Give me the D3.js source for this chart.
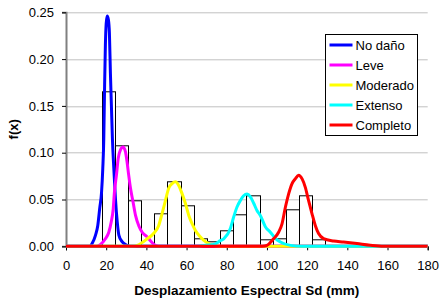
<!DOCTYPE html>
<html>
<head>
<meta charset="utf-8">
<script src="https://cdn.jsdelivr.net/npm/d3@7"></script>
<style>
    body { margin: 0; background: #fff; }
    text { font-family: "Liberation Sans", Arial, sans-serif; }
</style>
</head>
<body>
<div id="box-div"></div>
<script>
// valores
const xTicks = [0, 20, 40, 60, 80, 100, 120, 140, 160, 180]
const yTicks = [0, 0.05, 0.10, 0.15, 0.20, 0.25]

// histograma
const binEdges = [17.8, 24.3, 30.9, 37.4, 44.0, 50.5, 57.0, 63.6, 70.1, 76.7,
    83.2, 89.7, 96.3, 102.8, 109.4, 115.9, 122.4, 129.0, 135.5]
const binValues = [0.166, 0.108, 0.0487, 0, 0.0356, 0.0698, 0.0441, 0.0085, 0.0049,
    0.0174, 0.0345, 0.0548, 0.0075, 0.0085, 0.0395, 0.0548, 0.0078, 0.0014]

// curvas de fragilidad (densidad)
const seriesNames = ['No daño', 'Leve', 'Moderado', 'Extenso', 'Completo']

const noDanoX = [0, 12, 13, 14.7, 15.8, 16.8, 17.7, 18.3, 18.8, 19.2, 19.6, 20.0, 20.5, 21.1, 21.6,
    22.1, 22.6, 23.1, 23.8, 24.6, 25.5, 26.3, 27.9, 29.6, 32, 180]
const noDanoY = [0, 0, 0.003, 0.012, 0.022, 0.041, 0.058, 0.083, 0.115, 0.17, 0.215, 0.238, 0.246, 0.242, 0.228,
    0.185, 0.15, 0.115, 0.083, 0.051, 0.026, 0.012, 0.005, 0.002, 0, 0]

const leveX = [0, 15, 17.2, 19.6, 21.3, 22.5, 23.5, 24.1, 25.1, 26.0, 27.1, 28.4, 29.6, 30.4, 31.2,
    32.1, 33.4, 34.6, 36.2, 37.9, 40.4, 42.0, 44.5, 47, 180]
const leveY = [0, 0, 0.002, 0.008, 0.015, 0.026, 0.040, 0.058, 0.076, 0.094, 0.103, 0.106, 0.101, 0.090, 0.076,
    0.062, 0.047, 0.033, 0.022, 0.015, 0.010, 0.006, 0.001, 0, 0]

const moderadoX = [0, 33, 35.4, 40.4, 43.7, 46.1, 47.8, 49.5, 51.1, 52.8, 54.5, 56.1, 57.8, 59.4, 61.1,
    62.8, 64.4, 66.9, 69.4, 71.9, 76.8, 180]
const moderadoY = [0, 0, 0.001, 0.008, 0.014, 0.022, 0.035, 0.049, 0.062, 0.067, 0.069, 0.065, 0.056, 0.046, 0.033,
    0.024, 0.017, 0.010, 0.005, 0.002, 0, 0]

const extensoX = [0, 65.9, 68.5, 73.5, 76.8, 78.5, 81.8, 83.4, 85.1, 86.8, 88.4, 90.1, 91.7, 93.4, 95.1,
    96.7, 99.2, 101.7, 104.2, 106.7, 111.7, 118, 180]
const extensoY = [0, 0, 0.001, 0.002, 0.006, 0.008, 0.019, 0.031, 0.042, 0.049, 0.054, 0.056, 0.053, 0.046, 0.038,
    0.033, 0.021, 0.015, 0.0085, 0.0046, 0.001, 0, 0]

const completoX = [0, 97.7, 100.0, 103.3, 105.8, 107.5, 109.2, 110.8, 112.5, 114.1, 115.8, 117.5, 119.1, 120.7,
    122.4, 124.1, 125.7, 128.2, 133.2, 138.1, 144.8, 151.4, 158, 180]
const completoY = [0, 0, 0.001, 0.008, 0.015, 0.024, 0.042, 0.056, 0.067, 0.072, 0.076, 0.072, 0.063, 0.049,
    0.035, 0.022, 0.0136, 0.0082, 0.0057, 0.0046, 0.0029, 0.0011, 0, 0]

const seriesX = [noDanoX, leveX, moderadoX, extensoX, completoX]
const seriesY = [noDanoY, leveY, moderadoY, extensoY, completoY]
const seriesColors = ['#0000ff', '#ff00ff', '#ffff00', '#00ffff', '#ff0000']

let dms = {
    width: 445,
    height: 306,
    margin: {
        top: 12.3,
        right: 17.3,
        bottom: 59.7,
        left: 66
    }
}
dms.chartWidth = dms.width - dms.margin.left - dms.margin.right
dms.chartHeight = dms.height - dms.margin.top - dms.margin.bottom

const box = d3.select('#box-div').append('svg')
    .attr('width', dms.width)
    .attr('height', dms.height)

const content = box.append('g')
    .attr('transform', `translate(${dms.margin.left}, ${dms.margin.top})`)

const xScale = d3.scaleLinear()
    .domain([0, 180])
    .range([0, dms.chartWidth])

const yScale = d3.scaleLinear()
    .domain([0, 0.25])
    .range([dms.chartHeight, 0])

// lineas de division
content.append('g')
    .selectAll('line')
    .data(yTicks.filter(d => d > 0))
    .join('line')
    .attr('x1', 0)
    .attr('x2', dms.chartWidth)
    .attr('y1', d => Math.round(yScale(d)) + 0.5)
    .attr('y2', d => Math.round(yScale(d)) + 0.5)
    .attr('stroke', '#c0c0c0')
    .attr('stroke-width', 1)

// barras del histograma
const bins = binValues.map((v, i) => ({ x0: binEdges[i], x1: binEdges[i + 1], v: v }))
content.append('g')
    .selectAll('rect')
    .data(bins.filter(d => d.v > 0))
    .join('rect')
    .attr('x', d => Math.round(xScale(d.x0)) + 0.5)
    .attr('y', d => Math.round(yScale(d.v)) + 0.5)
    .attr('width', d => Math.round(xScale(d.x1)) - Math.round(xScale(d.x0)))
    .attr('height', d => Math.round(dms.chartHeight) - Math.round(yScale(d.v)))
    .attr('fill', '#fff')
    .attr('stroke', '#000')
    .attr('stroke-width', 1)

// ejes
const yAxis = content.append('g')
    .call(d3.axisLeft(yScale).tickValues(yTicks).tickFormat(d3.format('.2f')).tickSize(4).tickPadding(8))
yAxis.select('.domain').attr('stroke', '#808080').attr('stroke-width', 2)
yAxis.selectAll('text').attr('font-size', 13).attr('fill', '#000').style('font-family', '"Liberation Sans", Arial, sans-serif')

const xAxis = content.append('g')
    .attr('transform', `translate(0, ${dms.chartHeight})`)
    .call(d3.axisBottom(xScale).tickValues(xTicks).tickSize(4).tickPadding(10))
xAxis.select('.domain').attr('stroke', '#000')
xAxis.selectAll('text').attr('font-size', 13).attr('fill', '#000').style('font-family', '"Liberation Sans", Arial, sans-serif')

// curvas
const lineGen = d3.line()
    .x(d => xScale(d[0]))
    .y(d => yScale(d[1]))
    .curve(d3.curveMonotoneX)

content.append('g')
    .selectAll('path')
    .data(seriesX.map((xs, i) => xs.map((x, j) => [x, seriesY[i][j]])))
    .join('path')
    .attr('d', lineGen)
    .attr('fill', 'none')
    .attr('stroke', (d, i) => seriesColors[i])
    .attr('stroke-width', 3)
    .attr('stroke-linejoin', 'round')

// titulos
box.append('text')
    .attr('x', dms.margin.left + dms.chartWidth / 2)
    .attr('y', 295)
    .attr('text-anchor', 'middle')
    .attr('font-size', 13.5)
    .attr('font-weight', 'bold')
    .text('Desplazamiento Espectral Sd (mm)')

box.append('text')
    .attr('transform', `translate(18, ${dms.margin.top + dms.chartHeight / 2}) rotate(-90)`)
    .attr('text-anchor', 'middle')
    .attr('font-size', 13)
    .attr('font-weight', 'bold')
    .text('f(x)')

// leyenda
const legend = box.append('g')
    .attr('transform', 'translate(325.5, 34.5)')
legend.append('rect')
    .attr('width', 92)
    .attr('height', 101)
    .attr('fill', '#fff')
    .attr('stroke', '#000')

const legendItem = legend.selectAll('g.item')
    .data(seriesNames)
    .join('g')
    .attr('class', 'item')
    .attr('transform', (d, i) => `translate(0, ${10.5 + i * 20})`)
legendItem.append('line')
    .attr('x1', 4)
    .attr('x2', 27)
    .attr('stroke', (d, i) => seriesColors[i])
    .attr('stroke-width', 3)
legendItem.append('text')
    .attr('x', 30)
    .attr('y', 4.5)
    .attr('font-size', 13)
    .text(d => d)
</script>
</body>
</html>
